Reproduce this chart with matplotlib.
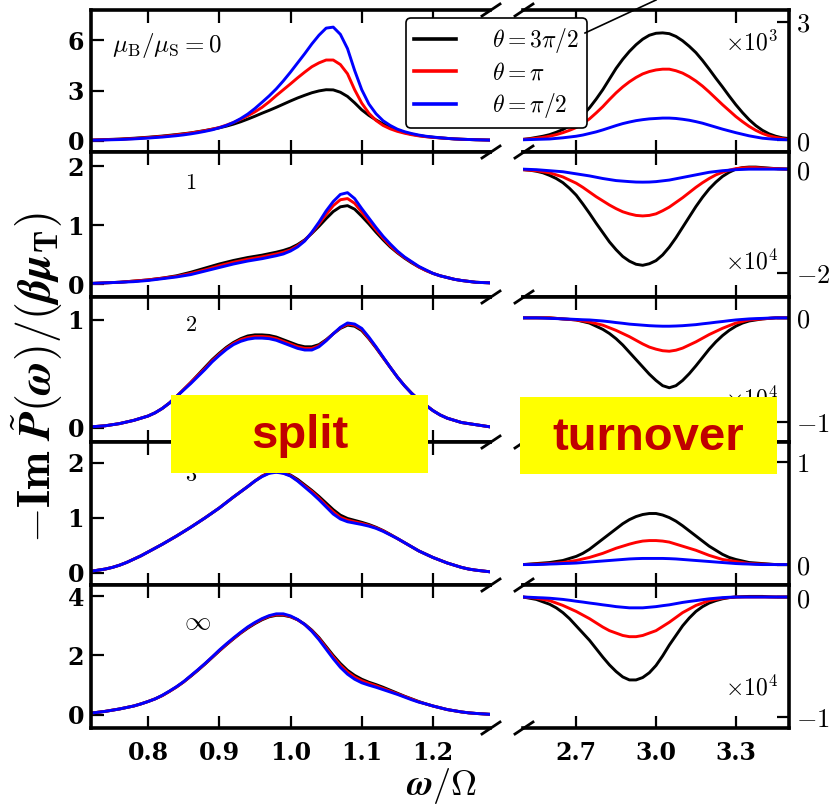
import numpy as np
import matplotlib
matplotlib.use("Agg")
import matplotlib.pyplot as plt
from matplotlib.lines import Line2D
from matplotlib.patches import Rectangle

plt.rcParams['mathtext.fontset'] = 'cm'
plt.rcParams['font.family'] = ['DejaVu Serif']

# ---------------- data ----------------
x_left = np.linspace(0.72, 1.28, 57)    # step 0.01
x_right = np.linspace(2.50, 3.50, 41)   # step 0.025

panel_labels = [r'$\mu_{\mathrm{B}}/\mu_{\mathrm{S}}=0$', r'$\mathbf{1}$', r'$\mathbf{2}$', r'$\mathbf{3}$', r'$\infty$']
theta_labels = [r'$\theta=3\pi/2$', r'$\theta=\pi$', r'$\theta=\pi/2$']
colors = ['black', 'red', 'blue']

# ----- left panels (split region) -----
L0_black = [0.05, 0.065, 0.08, 0.095, 0.11, 0.135, 0.16, 0.19, 0.22, 0.255, 0.29, 0.335, 0.38, 0.43, 0.48, 0.55, 0.62, 0.70, 0.78, 0.88,
            1.00, 1.14, 1.30, 1.47, 1.65, 1.82, 2.00, 2.19, 2.38, 2.56, 2.72, 2.87, 2.98, 3.05, 3.04, 2.90, 2.65, 2.27, 1.85, 1.52,
            1.25, 1.01, 0.80, 0.64, 0.50, 0.40, 0.32, 0.26, 0.22, 0.18, 0.15, 0.12, 0.10, 0.085, 0.07, 0.06, 0.05]
L0_red   = [0.05, 0.06, 0.07, 0.085, 0.10, 0.12, 0.14, 0.17, 0.20, 0.235, 0.27, 0.31, 0.36, 0.41, 0.47, 0.54, 0.61, 0.70, 0.80, 0.94,
            1.10, 1.29, 1.50, 1.73, 2.00, 2.33, 2.70, 3.05, 3.40, 3.76, 4.10, 4.42, 4.65, 4.82, 4.82, 4.55, 4.00, 3.05, 2.25, 1.65,
            1.22, 0.92, 0.72, 0.57, 0.46, 0.37, 0.30, 0.25, 0.21, 0.18, 0.15, 0.12, 0.10, 0.085, 0.07, 0.06, 0.05]
L0_blue  = [0.04, 0.05, 0.06, 0.07, 0.08, 0.10, 0.12, 0.145, 0.17, 0.20, 0.23, 0.27, 0.31, 0.36, 0.42, 0.49, 0.57, 0.66, 0.78, 0.92,
            1.10, 1.33, 1.60, 1.93, 2.30, 2.68, 3.10, 3.58, 4.10, 4.65, 5.20, 5.78, 6.30, 6.72, 6.78, 6.35, 5.50, 4.20, 3.05, 2.20,
            1.62, 1.20, 0.92, 0.70, 0.55, 0.44, 0.35, 0.28, 0.23, 0.19, 0.15, 0.12, 0.10, 0.085, 0.07, 0.06, 0.05]

L1_black = [0.01, 0.015, 0.02, 0.025, 0.03, 0.04, 0.05, 0.06, 0.07, 0.085, 0.10, 0.12, 0.14, 0.17, 0.20, 0.235, 0.27, 0.305, 0.34, 0.37,
            0.40, 0.425, 0.45, 0.47, 0.49, 0.515, 0.54, 0.57, 0.61, 0.67, 0.75, 0.86, 0.98, 1.11, 1.23, 1.31, 1.33, 1.27, 1.15, 1.02,
            0.88, 0.75, 0.63, 0.53, 0.44, 0.36, 0.29, 0.23, 0.18, 0.14, 0.11, 0.08, 0.06, 0.045, 0.03, 0.025, 0.02]
L1_red   = [0.01, 0.015, 0.02, 0.025, 0.03, 0.04, 0.05, 0.06, 0.07, 0.085, 0.10, 0.115, 0.13, 0.155, 0.18, 0.21, 0.24, 0.275, 0.31, 0.34,
            0.37, 0.395, 0.42, 0.44, 0.46, 0.485, 0.51, 0.54, 0.58, 0.65, 0.74, 0.87, 1.02, 1.18, 1.33, 1.43, 1.45, 1.37, 1.22, 1.07,
            0.92, 0.78, 0.65, 0.54, 0.45, 0.37, 0.29, 0.23, 0.18, 0.14, 0.11, 0.08, 0.06, 0.045, 0.03, 0.025, 0.02]
L1_blue  = [0.01, 0.015, 0.02, 0.025, 0.03, 0.035, 0.04, 0.05, 0.06, 0.075, 0.09, 0.105, 0.12, 0.14, 0.16, 0.19, 0.22, 0.25, 0.28, 0.31,
            0.34, 0.365, 0.39, 0.41, 0.43, 0.455, 0.48, 0.51, 0.56, 0.63, 0.73, 0.88, 1.05, 1.24, 1.40, 1.52, 1.55, 1.45, 1.28, 1.12,
            0.96, 0.81, 0.68, 0.56, 0.46, 0.38, 0.30, 0.24, 0.18, 0.14, 0.11, 0.08, 0.06, 0.045, 0.03, 0.025, 0.02]

L2_black = [0.01, 0.015, 0.02, 0.03, 0.04, 0.055, 0.07, 0.09, 0.11, 0.14, 0.18, 0.23, 0.29, 0.355, 0.42, 0.49, 0.56, 0.63, 0.69, 0.745,
            0.79, 0.825, 0.85, 0.86, 0.86, 0.855, 0.84, 0.815, 0.79, 0.765, 0.75, 0.75, 0.77, 0.815, 0.87, 0.92, 0.95, 0.94, 0.90, 0.825,
            0.74, 0.65, 0.56, 0.47, 0.39, 0.32, 0.26, 0.21, 0.16, 0.12, 0.09, 0.07, 0.05, 0.04, 0.03, 0.02, 0.01]
L2_red   = [0.01, 0.015, 0.02, 0.03, 0.04, 0.055, 0.07, 0.09, 0.11, 0.14, 0.18, 0.23, 0.29, 0.355, 0.42, 0.485, 0.55, 0.62, 0.68, 0.735,
            0.78, 0.815, 0.835, 0.845, 0.845, 0.84, 0.825, 0.80, 0.775, 0.75, 0.735, 0.735, 0.76, 0.81, 0.87, 0.925, 0.96, 0.95, 0.91, 0.83,
            0.745, 0.65, 0.56, 0.47, 0.39, 0.32, 0.26, 0.21, 0.16, 0.12, 0.09, 0.07, 0.05, 0.04, 0.03, 0.02, 0.01]
L2_blue  = [0.01, 0.015, 0.02, 0.03, 0.04, 0.055, 0.07, 0.09, 0.11, 0.14, 0.18, 0.23, 0.29, 0.35, 0.41, 0.475, 0.54, 0.61, 0.67, 0.725,
            0.77, 0.80, 0.82, 0.83, 0.83, 0.825, 0.81, 0.785, 0.76, 0.735, 0.72, 0.72, 0.75, 0.805, 0.87, 0.93, 0.97, 0.96, 0.92, 0.84,
            0.75, 0.655, 0.56, 0.47, 0.39, 0.32, 0.26, 0.21, 0.16, 0.12, 0.09, 0.07, 0.05, 0.04, 0.03, 0.02, 0.01]

L3_black = [0.03, 0.05, 0.07, 0.10, 0.14, 0.19, 0.25, 0.31, 0.38, 0.45, 0.52, 0.595, 0.67, 0.75, 0.83, 0.915, 1.00, 1.09, 1.18, 1.28,
            1.38, 1.475, 1.57, 1.67, 1.76, 1.82, 1.84, 1.82, 1.78, 1.70, 1.60, 1.50, 1.39, 1.27, 1.15, 1.05, 0.99, 0.955, 0.92, 0.88,
            0.83, 0.77, 0.70, 0.625, 0.55, 0.475, 0.40, 0.34, 0.28, 0.23, 0.18, 0.14, 0.10, 0.07, 0.05, 0.035, 0.02]
L3_red   = [0.03, 0.05, 0.07, 0.10, 0.14, 0.19, 0.25, 0.31, 0.38, 0.45, 0.52, 0.595, 0.67, 0.75, 0.83, 0.915, 1.00, 1.09, 1.18, 1.28,
            1.38, 1.475, 1.57, 1.67, 1.76, 1.82, 1.84, 1.815, 1.77, 1.68, 1.58, 1.48, 1.36, 1.23, 1.11, 1.01, 0.96, 0.93, 0.90, 0.865,
            0.82, 0.765, 0.695, 0.625, 0.55, 0.475, 0.40, 0.34, 0.28, 0.23, 0.18, 0.14, 0.10, 0.07, 0.05, 0.035, 0.02]
L3_blue  = [0.03, 0.05, 0.07, 0.10, 0.14, 0.19, 0.25, 0.31, 0.38, 0.45, 0.52, 0.595, 0.67, 0.75, 0.83, 0.915, 1.00, 1.09, 1.18, 1.28,
            1.38, 1.475, 1.57, 1.67, 1.75, 1.81, 1.83, 1.81, 1.76, 1.67, 1.56, 1.45, 1.33, 1.20, 1.07, 0.98, 0.93, 0.905, 0.88, 0.85,
            0.81, 0.755, 0.69, 0.625, 0.55, 0.475, 0.40, 0.34, 0.28, 0.23, 0.18, 0.14, 0.10, 0.07, 0.05, 0.035, 0.02]

L4_black = [0.06, 0.09, 0.12, 0.16, 0.20, 0.25, 0.30, 0.37, 0.45, 0.54, 0.65, 0.79, 0.94, 1.11, 1.30, 1.50, 1.71, 1.93, 2.15, 2.36,
            2.56, 2.75, 2.92, 3.07, 3.20, 3.30, 3.35, 3.35, 3.30, 3.20, 3.05, 2.85, 2.60, 2.30, 2.00, 1.73, 1.50, 1.33, 1.20, 1.10,
            1.02, 0.93, 0.83, 0.73, 0.63, 0.54, 0.45, 0.37, 0.30, 0.24, 0.18, 0.14, 0.10, 0.07, 0.05, 0.035, 0.02]
L4_red   = [0.06, 0.09, 0.12, 0.16, 0.20, 0.25, 0.30, 0.37, 0.45, 0.54, 0.65, 0.79, 0.94, 1.11, 1.31, 1.51, 1.72, 1.94, 2.16, 2.37,
            2.57, 2.76, 2.94, 3.09, 3.22, 3.32, 3.37, 3.37, 3.31, 3.20, 3.04, 2.83, 2.57, 2.26, 1.95, 1.67, 1.44, 1.27, 1.15, 1.06,
            0.98, 0.89, 0.80, 0.71, 0.62, 0.53, 0.44, 0.37, 0.30, 0.24, 0.18, 0.14, 0.10, 0.07, 0.05, 0.035, 0.02]
L4_blue  = [0.06, 0.09, 0.12, 0.16, 0.20, 0.25, 0.30, 0.37, 0.45, 0.54, 0.66, 0.80, 0.95, 1.12, 1.32, 1.52, 1.73, 1.95, 2.18, 2.39,
            2.59, 2.78, 2.96, 3.11, 3.24, 3.34, 3.40, 3.40, 3.33, 3.21, 3.04, 2.81, 2.53, 2.21, 1.89, 1.60, 1.37, 1.20, 1.08, 1.00,
            0.93, 0.85, 0.77, 0.69, 0.60, 0.51, 0.43, 0.37, 0.30, 0.24, 0.18, 0.14, 0.10, 0.07, 0.05, 0.035, 0.02]

# ----- right panels (turnover region), in units of the x10^n labels -----
R0_black = [0.02, 0.04, 0.07, 0.10, 0.14, 0.20, 0.27, 0.36, 0.48, 0.64, 0.82, 1.04, 1.28, 1.55, 1.82, 2.05, 2.25, 2.42, 2.56, 2.66,
            2.71, 2.72, 2.70, 2.63, 2.52, 2.38, 2.22, 2.02, 1.80, 1.57, 1.35, 1.12, 0.90, 0.70, 0.52, 0.37, 0.25, 0.16, 0.10, 0.06, 0.04]
R0_red   = [0.02, 0.03, 0.05, 0.07, 0.10, 0.14, 0.19, 0.25, 0.32, 0.42, 0.54, 0.69, 0.85, 1.03, 1.20, 1.35, 1.48, 1.59, 1.68, 1.74,
            1.78, 1.80, 1.80, 1.76, 1.70, 1.61, 1.50, 1.37, 1.22, 1.06, 0.90, 0.75, 0.60, 0.47, 0.35, 0.25, 0.17, 0.11, 0.07, 0.04, 0.02]
R0_blue  = [0.01, 0.015, 0.02, 0.025, 0.03, 0.045, 0.06, 0.08, 0.10, 0.13, 0.17, 0.21, 0.26, 0.315, 0.37, 0.42, 0.46, 0.495, 0.52, 0.54,
            0.55, 0.56, 0.56, 0.55, 0.53, 0.505, 0.47, 0.43, 0.38, 0.33, 0.28, 0.235, 0.19, 0.15, 0.11, 0.08, 0.05, 0.035, 0.02, 0.015, 0.01]

R1_black = [-0.01, -0.02, -0.04, -0.07, -0.12, -0.18, -0.26, -0.37, -0.50, -0.67, -0.85, -1.04, -1.22, -1.40, -1.55, -1.68, -1.77, -1.83, -1.85, -1.82,
            -1.76, -1.65, -1.50, -1.32, -1.12, -0.92, -0.72, -0.54, -0.38, -0.25, -0.14, -0.06, 0.00, 0.03, 0.04, 0.04, 0.03, 0.02, 0.01, 0.005, 0.00]
R1_red   = [-0.01, -0.02, -0.03, -0.05, -0.07, -0.11, -0.15, -0.21, -0.27, -0.35, -0.44, -0.53, -0.61, -0.69, -0.76, -0.82, -0.86, -0.89, -0.90, -0.89,
            -0.86, -0.80, -0.73, -0.64, -0.55, -0.45, -0.35, -0.26, -0.18, -0.11, -0.06, -0.02, 0.01, 0.025, 0.03, 0.03, 0.02, 0.015, 0.01, 0.005, 0.00]
R1_blue  = [0.00, -0.005, -0.01, -0.02, -0.03, -0.04, -0.05, -0.07, -0.09, -0.11, -0.13, -0.155, -0.18, -0.20, -0.22, -0.23, -0.24, -0.248, -0.25, -0.248,
            -0.24, -0.225, -0.21, -0.185, -0.16, -0.135, -0.11, -0.085, -0.06, -0.045, -0.03, -0.02, -0.01, -0.005, 0.00, 0.00, 0.00, 0.00, 0.00, 0.00, 0.00]

R2_black = [0.00, 0.00, 0.00, 0.00, 0.00, -0.005, -0.01, -0.015, -0.02, -0.035, -0.05, -0.08, -0.11, -0.15, -0.20, -0.26, -0.33, -0.40, -0.47, -0.54,
            -0.60, -0.65, -0.67, -0.65, -0.60, -0.535, -0.46, -0.38, -0.30, -0.23, -0.17, -0.12, -0.08, -0.05, -0.03, -0.02, -0.01, -0.005, 0.00, 0.00, 0.00]
R2_red   = [0.00, 0.00, 0.00, 0.00, 0.00, -0.005, -0.01, -0.015, -0.02, -0.03, -0.04, -0.055, -0.07, -0.095, -0.12, -0.15, -0.18, -0.215, -0.25, -0.28,
            -0.30, -0.315, -0.32, -0.31, -0.29, -0.26, -0.23, -0.195, -0.16, -0.13, -0.10, -0.075, -0.05, -0.035, -0.02, -0.015, -0.01, -0.005, 0.00, 0.00, 0.00]
R2_blue  = [0.00, 0.00, 0.00, -0.002, -0.005, -0.007, -0.01, -0.012, -0.015, -0.018, -0.02, -0.025, -0.03, -0.037, -0.045, -0.052, -0.06, -0.065, -0.07, -0.075,
            -0.078, -0.08, -0.08, -0.078, -0.075, -0.07, -0.065, -0.057, -0.05, -0.042, -0.035, -0.027, -0.02, -0.015, -0.01, -0.007, -0.005, -0.002, 0.00, 0.00, 0.00]

R3_black = [0.00, 0.005, 0.01, 0.015, 0.02, 0.03, 0.04, 0.06, 0.08, 0.11, 0.15, 0.20, 0.25, 0.30, 0.35, 0.40, 0.44, 0.47, 0.49, 0.50,
            0.50, 0.485, 0.46, 0.425, 0.38, 0.33, 0.28, 0.23, 0.18, 0.14, 0.10, 0.07, 0.05, 0.035, 0.02, 0.015, 0.01, 0.005, 0.00, 0.00, 0.00]
R3_red   = [0.00, 0.002, 0.005, 0.007, 0.01, 0.015, 0.02, 0.03, 0.04, 0.055, 0.07, 0.09, 0.11, 0.135, 0.16, 0.18, 0.20, 0.217, 0.23, 0.235,
            0.235, 0.23, 0.22, 0.20, 0.18, 0.16, 0.14, 0.115, 0.09, 0.07, 0.05, 0.04, 0.03, 0.02, 0.01, 0.007, 0.005, 0.002, 0.00, 0.00, 0.00]
R3_blue  = [0.00, 0.00, 0.00, 0.002, 0.005, 0.007, 0.01, 0.012, 0.015, 0.02, 0.025, 0.03, 0.035, 0.04, 0.045, 0.05, 0.055, 0.058, 0.06, 0.06,
            0.06, 0.06, 0.058, 0.055, 0.05, 0.045, 0.04, 0.035, 0.03, 0.025, 0.02, 0.015, 0.01, 0.007, 0.005, 0.002, 0.00, 0.00, 0.00, 0.00, 0.00]

R4_black = [0.00, -0.01, -0.02, -0.04, -0.06, -0.09, -0.13, -0.18, -0.24, -0.30, -0.36, -0.43, -0.50, -0.565, -0.62, -0.665, -0.69, -0.69, -0.67, -0.63,
            -0.57, -0.49, -0.40, -0.32, -0.24, -0.175, -0.12, -0.08, -0.05, -0.03, -0.015, -0.005, 0.00, 0.003, 0.005, 0.005, 0.005, 0.002, 0.00, 0.00, 0.00]
R4_red   = [0.00, -0.005, -0.01, -0.02, -0.03, -0.05, -0.07, -0.095, -0.12, -0.15, -0.18, -0.215, -0.25, -0.28, -0.30, -0.32, -0.33, -0.33, -0.32, -0.30,
            -0.28, -0.245, -0.21, -0.17, -0.13, -0.10, -0.07, -0.05, -0.03, -0.02, -0.01, -0.005, 0.00, 0.00, 0.00, 0.00, 0.00, 0.00, 0.00, 0.00, 0.00]
R4_blue  = [0.00, -0.002, -0.005, -0.007, -0.01, -0.015, -0.02, -0.027, -0.035, -0.042, -0.05, -0.057, -0.065, -0.072, -0.08, -0.085, -0.09, -0.09, -0.09, -0.085,
            -0.08, -0.072, -0.065, -0.055, -0.045, -0.037, -0.03, -0.022, -0.015, -0.01, -0.005, -0.002, 0.00, 0.00, 0.00, 0.00, 0.00, 0.00, 0.00, 0.00, 0.00]

left_series = [[L0_black, L0_red, L0_blue], [L1_black, L1_red, L1_blue], [L2_black, L2_red, L2_blue],
               [L3_black, L3_red, L3_blue], [L4_black, L4_red, L4_blue]]
right_series = [[R0_black, R0_red, R0_blue], [R1_black, R1_red, R1_blue], [R2_black, R2_red, R2_blue],
                [R3_black, R3_red, R3_blue], [R4_black, R4_red, R4_blue]]

left_ylims = [(-0.66, 7.8), (-0.22, 2.24), (-0.13, 1.21), (-0.22, 2.38), (-0.44, 4.37)]
right_ylims = [(-0.3, 3.3), (-2.46, 0.33), (-1.19, 0.2), (-0.2, 1.2), (-1.09, 0.1)]
left_yticks = [[0, 3, 6], [0, 1, 2], [0, 1], [0, 1, 2], [0, 2, 4]]
right_yticks = [[0, 3], [-2, 0], [-1, 0], [0, 1], [-1, 0]]
left_xticks = [0.8, 0.9, 1.0, 1.1, 1.2]
right_xticks = [2.7, 3.0, 3.3]
scale_labels = [r'$\times10^3$', r'$\times10^4$', r'$\times10^4$', None, r'$\times10^4$']

# ---------------- layout ----------------
W, H = 839, 809
fig = plt.figure(figsize=(W / 100, H / 100), dpi=100)
tops = [10, 152, 297, 442, 585]
bots = [152, 297, 442, 585, 728]
LX0, LX1 = 91, 490
RX0, RX1 = 523, 789
SPW = 2.6
bold_tick = dict(family='DejaVu Serif', fontweight='bold', fontsize=17)

label_pos = [(0.052, 0.75), (0.235, 0.786), (0.235, 0.807), (0.235, 0.77), (0.233, 0.748)]
label_size = [18, 16, 16, 16, 19]
scale_pos = [(0.86, 0.77), (0.86, 0.24), (0.86, 0.30), None, (0.86, 0.28)]

for i in range(5):
    h = (bots[i] - tops[i]) / H
    b = 1 - bots[i] / H
    axL = fig.add_axes([LX0 / W, b, (LX1 - LX0) / W, h])
    axR = fig.add_axes([RX0 / W, b, (RX1 - RX0) / W, h])

    for k in range(3):
        axL.plot(x_left, left_series[i][k], color=colors[k], lw=2.1)
        axR.plot(x_right, right_series[i][k], color=colors[k], lw=2.1)

    axL.set_xlim(0.72, 1.28)
    axR.set_xlim(2.5, 3.5)
    axL.set_ylim(*left_ylims[i])
    axR.set_ylim(*right_ylims[i])

    axL.tick_params(axis='both', direction='in', length=9, width=1.6,
                    top=True, bottom=True, left=True, right=False, pad=5)
    axR.tick_params(axis='both', direction='in', length=9, width=1.6, labelsize=19,
                    top=True, bottom=True, left=False, right=True,
                    labelleft=False, labelright=True, pad=5)

    axL.set_xticks(left_xticks)
    axR.set_xticks(right_xticks)
    axL.set_yticks(left_yticks[i])
    axL.set_yticklabels([str(v) for v in left_yticks[i]], **bold_tick)
    axR.set_yticks(right_yticks[i])
    axR.set_yticklabels([r'$%d$' % v for v in right_yticks[i]])

    if i == 4:
        axL.set_xticklabels(['%.1f' % v for v in left_xticks], **bold_tick)
        axR.set_xticklabels(['%.1f' % v for v in right_xticks], **bold_tick)
        axL.tick_params(axis='x', pad=9)
        axR.tick_params(axis='x', pad=9)
    else:
        axL.tick_params(labelbottom=False)
        axR.tick_params(labelbottom=False)

    for s in ['left', 'top', 'bottom']:
        axL.spines[s].set_linewidth(SPW)
    axL.spines['right'].set_visible(False)
    for s in ['right', 'top', 'bottom']:
        axR.spines[s].set_linewidth(SPW)
    axR.spines['left'].set_visible(False)

    lx, ly = label_pos[i]
    axL.text(lx, ly, panel_labels[i], transform=axL.transAxes, fontsize=label_size[i], va='center', ha='left')
    if scale_labels[i] is not None:
        sx, sy = scale_pos[i]
        axR.text(sx, sy, scale_labels[i], transform=axR.transAxes, fontsize=17, va='center', ha='center')

# break marks
for yy in tops + [bots[-1]]:
    for cx in (LX1 + 1, RX0 + 1):
        fig.add_artist(Line2D([(cx - 9) / W, (cx + 9) / W], [1 - (yy + 6) / H, 1 - (yy - 6) / H],
                              transform=fig.transFigure, color='black', lw=2.0, clip_on=False))

# legend
handles = [Line2D([], [], color=c, lw=2.6) for c in colors]
leg = fig.legend(handles, theta_labels, loc='upper left', bbox_to_anchor=(406 / W, 1 - 18 / H),
                 fontsize=17, frameon=True, fancybox=True, edgecolor='black', facecolor='white',
                 framealpha=1, handlelength=1.8, handletextpad=1.5, labelspacing=0.28,
                 borderpad=0.33, borderaxespad=0)
leg.get_frame().set_linewidth(1.2)
leg.set_zorder(20)
fig.add_artist(Line2D([585 / W, 656 / W], [1 - 33 / H, 1.0], transform=fig.transFigure,
                      color='black', lw=1.2, zorder=21))

# axis labels
fig.text(37 / W, 1 - 378 / H, r'$-\mathbf{Im}\;\tilde{\mathbfit{P}}(\mathbfit{\omega})/(\mathbfit{\beta\mu}_{\mathbf{T}})$',
         rotation=90, fontsize=33, ha='center', va='center')
fig.text(442 / W, 1 - 786 / H, r'$\mathbfit{\omega}/\mathbf{\Omega}$', fontsize=26, ha='center', va='center')

# highlight boxes
for (x0, y0, x1, y1, txt) in [(171, 395, 428, 473, 'split'), (520, 397, 777, 474, 'turnover')]:
    fig.add_artist(Rectangle((x0 / W, 1 - y1 / H), (x1 - x0) / W, (y1 - y0) / H,
                             transform=fig.transFigure, facecolor='#FFFF00', edgecolor='none', zorder=30))
    fig.text((x0 + x1) / 2 / W, 1 - ((y0 + y1) / 2 + 2) / H, txt, fontsize=34, fontweight='bold',
             family=['Liberation Sans', 'DejaVu Sans'], color='#C00000', ha='center', va='center', zorder=31)

fig.savefig('out.png', dpi=100)
